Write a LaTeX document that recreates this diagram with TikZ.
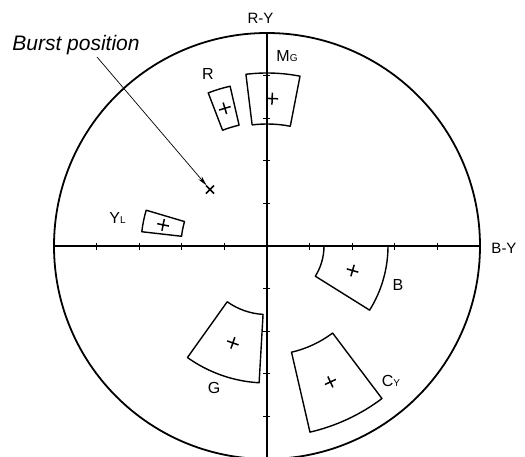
\documentclass[tikz,border=0pt]{standalone}
\usepackage{fontspec}
\setmainfont{Liberation Sans}
\usetikzlibrary{arrows.meta,shapes.misc}
\newcommand{\lsub}[1]{{\fontsize{10}{10}\selectfont #1}}
\tikzset{
  ring/.style={line width=1.8pt},
  axis/.style={line width=1.6pt},
  tick/.style={line width=0.9pt},
  tbox/.style={line width=1.4pt,line join=round},
  cmark/.style={cross out,draw,line width=1.5pt,minimum size=7pt,inner sep=0pt},
  lbl/.style={font=\fontsize{16}{16}\selectfont,inner sep=0pt},
  ar/.style={-{Stealth[length=10pt,width=4.5pt]},line width=0.7pt},
}
% target box: name, start angle, end angle, inner radius, outer radius
\newcommand{\tgt}[5]{%
  \draw[tbox] (#2:#4) arc[start angle=#2,end angle=#3,radius=#4]
    -- (#3:#5) arc[start angle=#3,end angle=#2,radius=#5] -- cycle;
  \node[cmark,rotate={(#2+#3)/2-45}] (#1) at ({(#2+#3)/2}:{(#4+#5)/2}) {};}
\begin{document}
\begin{tikzpicture}[x=1pt,y=1pt]
  \useasboundingbox (-267,-210) rectangle (258,246);
  \draw[ring] (0,0) circle[radius=213];
  \draw[axis] (-213,0) -- (213,0);
  \draw[axis] (0,213) -- (0,-213);
  \foreach \k in {-4,-3,-2,-1,1,2,3,4} {
    \draw[tick] (\k*42.6,-3.5) -- (\k*42.6,3.5);
    \draw[tick] (-3.5,\k*42.6) -- (3.5,\k*42.6);
  }
  % targets
  \tgt{mg}{79}{97}{122}{173}
  \tgt{r}{103}{111}{124}{164}
  \tgt{yl}{163.5}{173.5}{86}{126}
  \tgt{b}{-32}{0}{57}{121}
  \tgt{g}{234.5}{266.7}{68.5}{137}
  \tgt{cy}{-77}{-53}{109}{191}
  % labels
  \node[lbl,font=\fontsize{15}{15}\selectfont] (ry) at (-6.5,227.5) {R-Y};
  \node[lbl,font=\fontsize{15}{15}\selectfont] (by) at (237,-2) {B-Y};
  \node[lbl] (lmg) at (20,190) {M\lsub{G}};
  \node[lbl] (lr) at (-59,172) {R};
  \node[lbl] (lyl) at (-149.5,28.5) {Y\lsub{L}};
  \node[lbl] (lb) at (131,-39) {B};
  \node[lbl] (lg) at (-53,-142) {G};
  \node[lbl] (lcy) at (124,-135) {C\lsub{Y}};
  % burst
  \node[cmark,minimum size=6.5pt] (bm) at (-57,56.5) {};
  \node[font=\fontsize{21}{22}\itshape,inner sep=0pt] (bp) at (-191,201) {Burst position};
  \draw[ar] ([xshift=21pt,yshift=-2pt]bp.south) -- (bm);
\end{tikzpicture}
\end{document}
